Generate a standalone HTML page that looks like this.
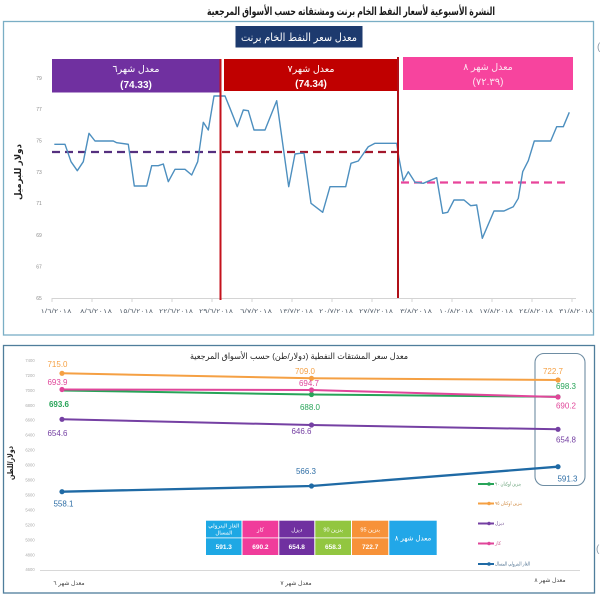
<!DOCTYPE html>
<html><head><meta charset="utf-8"><style>
html,body{margin:0;padding:0;background:#fff;}
svg{display:block;font-family:"Liberation Sans","DejaVu Sans",sans-serif;}
</style></head><body>
<svg width="600" height="595" viewBox="0 0 600 595" xmlns="http://www.w3.org/2000/svg">
<rect width="600" height="595" fill="#fff"/>
<!-- main title -->
<text x="351" y="15" text-anchor="middle" font-size="11" font-weight="bold" fill="#1a1a1a" textLength="288" lengthAdjust="spacingAndGlyphs">النشرة الأسبوعية لأسعار النفط الخام برنت ومشتقاته حسب الأسواق المرجعية</text>
<text x="597" y="50" font-size="10" fill="#8a9aa8">(</text>
<text x="596" y="552" font-size="10" fill="#8a9aa8">(</text>

<!-- TOP FRAME -->
<rect x="3.5" y="21.5" width="590" height="313.5" fill="none" stroke="#7aaec5" stroke-width="1.3"/>
<rect x="235.5" y="26" width="127" height="21.5" fill="#1d3a6e"/>
<text x="299" y="41" text-anchor="middle" font-size="11" fill="#fff" textLength="116" lengthAdjust="spacingAndGlyphs">معدل سعر النفط الخام برنت</text>

<rect x="52" y="59" width="169" height="33.5" fill="#7030a0"/>
<text x="136" y="72" text-anchor="middle" font-size="9.5" fill="#fff">معدل شهر٦</text>
<text x="136" y="88" text-anchor="middle" font-size="10" font-weight="bold" fill="#fff">(74.33)</text>
<rect x="224" y="59" width="174" height="32" fill="#c00000"/>
<text x="311" y="72" text-anchor="middle" font-size="9.5" fill="#fff">معدل شهر٧</text>
<text x="311" y="87" text-anchor="middle" font-size="10" font-weight="bold" fill="#fff">(74.34)</text>
<rect x="403" y="57" width="170" height="33" fill="#f7449e"/>
<text x="488" y="70" text-anchor="middle" font-size="9.5" fill="#fde6f1">معدل شهر ٨</text>
<text x="488" y="85" text-anchor="middle" font-size="10" fill="#fde6f1">(٧٢.٣٩)</text>

<!-- y ticks top -->
<g font-size="5" fill="#8a8a8a" text-anchor="middle">
<text x="39" y="80">79</text><text x="39" y="111">77</text><text x="39" y="142.5">75</text>
<text x="39" y="174">73</text><text x="39" y="205">71</text><text x="39" y="237">69</text>
<text x="39" y="268.5">67</text><text x="39" y="300">65</text>
</g>
<text transform="translate(21,172) rotate(-90)" text-anchor="middle" font-size="9" font-weight="bold" fill="#222" textLength="56" lengthAdjust="spacingAndGlyphs">دولار للبرميل</text>

<!-- x axis top -->
<line x1="52" y1="298.5" x2="576" y2="298.5" stroke="#d4d4d4" stroke-width="1"/>
<g stroke="#d4d4d4" stroke-width="1">
<line x1="52" y1="298" x2="52" y2="302"/><line x1="92" y1="298" x2="92" y2="302"/><line x1="132" y1="298" x2="132" y2="302"/>
<line x1="172" y1="298" x2="172" y2="302"/><line x1="212" y1="298" x2="212" y2="302"/><line x1="252" y1="298" x2="252" y2="302"/>
<line x1="292" y1="298" x2="292" y2="302"/><line x1="332" y1="298" x2="332" y2="302"/><line x1="372" y1="298" x2="372" y2="302"/>
<line x1="412" y1="298" x2="412" y2="302"/><line x1="452" y1="298" x2="452" y2="302"/><line x1="492" y1="298" x2="492" y2="302"/>
<line x1="532" y1="298" x2="532" y2="302"/><line x1="572" y1="298" x2="572" y2="302"/>
</g>
<g font-size="6" fill="#5a6470" text-anchor="middle">
<text x="56" y="313" textLength="31" lengthAdjust="spacingAndGlyphs">١/٦/٢٠١٨</text>
<text x="96" y="313" textLength="32" lengthAdjust="spacingAndGlyphs">٨/٦/٢٠١٨</text>
<text x="136" y="313" textLength="34" lengthAdjust="spacingAndGlyphs">١٥/٦/٢٠١٨</text>
<text x="176" y="313" textLength="34" lengthAdjust="spacingAndGlyphs">٢٢/٦/٢٠١٨</text>
<text x="216" y="313" textLength="34" lengthAdjust="spacingAndGlyphs">٢٩/٦/٢٠١٨</text>
<text x="256" y="313" textLength="32" lengthAdjust="spacingAndGlyphs">٦/٧/٢٠١٨</text>
<text x="296" y="313" textLength="34" lengthAdjust="spacingAndGlyphs">١٣/٧/٢٠١٨</text>
<text x="336" y="313" textLength="34" lengthAdjust="spacingAndGlyphs">٢٠/٧/٢٠١٨</text>
<text x="376" y="313" textLength="34" lengthAdjust="spacingAndGlyphs">٢٧/٧/٢٠١٨</text>
<text x="416" y="313" textLength="32" lengthAdjust="spacingAndGlyphs">٣/٨/٢٠١٨</text>
<text x="456" y="313" textLength="34" lengthAdjust="spacingAndGlyphs">١٠/٨/٢٠١٨</text>
<text x="496" y="313" textLength="34" lengthAdjust="spacingAndGlyphs">١٧/٨/٢٠١٨</text>
<text x="536" y="313" textLength="34" lengthAdjust="spacingAndGlyphs">٢٤/٨/٢٠١٨</text>
<text x="576" y="313" textLength="34" lengthAdjust="spacingAndGlyphs">٣١/٨/٢٠١٨</text>
</g>

<!-- dashed averages -->
<line x1="52" y1="152" x2="220" y2="152" stroke="#55307f" stroke-width="2.2" stroke-dasharray="8,5"/>
<line x1="222" y1="152" x2="397" y2="152" stroke="#a3182c" stroke-width="2.2" stroke-dasharray="8,5"/>
<line x1="401" y1="182.5" x2="570" y2="182.5" stroke="#e8449a" stroke-width="2.2" stroke-dasharray="8,5"/>

<!-- price line -->
<polyline fill="none" stroke="#4d8fbf" stroke-width="1.4" stroke-linejoin="round" points="54.3,144.3 65,144.3 71,161.7 77.3,170.7 83.3,161.7 89,133.3 95,141 113.3,141 116.7,142.7 128.3,144.3 134.3,186 146.7,186 151.7,165.7 158.3,165.7 163.3,164 168.3,181.7 175,169.3 185,169.3 191.7,175 197.7,161.7 203.3,122.3 208.3,130 214,96 218.3,96 225,96 230,108.3 237.3,126.7 243.3,110 248.3,110.7 254,130 265,130 276.7,100.7 288.7,186.7 295,154 300,153.3 304,153.3 311,203.3 322.7,212.3 330,186.7 345.7,186.7 351,163.3 358.3,161 368.3,146.7 375,143.3 396.7,143.3 399,158.3 403.3,180.7 408.3,171.7 415,182.3 423.3,183.3 436.7,177.7 442.7,213.3 447.7,212.3 454,200 464,200 470.7,205.7 476.7,205 482.3,238.3 494,211 504,211 513.3,206.7 518.3,198.3 522.7,171.7 528.3,160.7 534.3,141 550.7,141 556.7,126.7 563.3,126.7 569.3,112.3"/>

<!-- red verticals -->
<line x1="220.5" y1="59" x2="220.5" y2="300" stroke="#c4121c" stroke-width="2"/>
<line x1="398" y1="57" x2="398" y2="298" stroke="#b01018" stroke-width="2"/>

<!-- BOTTOM FRAME -->
<rect x="3.5" y="345.5" width="591" height="247.5" fill="none" stroke="#4f7d9b" stroke-width="1.3"/>
<text x="299" y="359" text-anchor="middle" font-size="8.5" fill="#222" direction="rtl" textLength="218" lengthAdjust="spacingAndGlyphs">معدل سعر المشتقات النفطية (دولار/طن) حسب الأسواق المرجعية</text>

<g font-size="4.2" fill="#aaaaaa" text-anchor="middle">
<text x="30" y="362">7400</text><text x="30" y="377">7200</text><text x="30" y="392">7000</text>
<text x="30" y="407">6800</text><text x="30" y="421.5">6600</text><text x="30" y="436.5">6400</text>
<text x="30" y="451.5">6200</text><text x="30" y="466.5">6000</text><text x="30" y="481.5">5800</text>
<text x="30" y="496.5">5600</text><text x="30" y="511.5">5400</text><text x="30" y="526.5">5200</text>
<text x="30" y="541.5">5000</text><text x="30" y="556.5">4800</text><text x="30" y="571">4600</text>
</g>
<text transform="translate(13,463) rotate(-90)" text-anchor="middle" font-size="8" font-weight="bold" fill="#222" textLength="34" lengthAdjust="spacingAndGlyphs">دولار/للطن</text>

<line x1="40" y1="570.5" x2="580" y2="570.5" stroke="#d8d8d8" stroke-width="1"/>
<g font-size="6" fill="#444" text-anchor="middle">
<text x="69" y="585">معدل شهر ٦</text>
<text x="296" y="585">معدل شهر ٧</text>
<text x="550" y="582">معدل شهر ٨</text>
</g>

<!-- highlight box -->
<rect x="535" y="353.5" width="50" height="132" rx="9" ry="9" fill="none" stroke="#6e8da3" stroke-width="1.1"/>

<!-- series -->
<g stroke-width="2" fill="none" stroke-linejoin="round">
<polyline stroke="#f5a043" points="62,373.3 311.5,378.3 558,380"/>
<polyline stroke="#27a458" points="62,390.5 311.5,394.5 558,396.8"/>
<polyline stroke="#e0469a" points="62,389.5 311.5,390 558,397"/>
<polyline stroke="#7540a3" points="62,419.3 311.5,425 558,429.3"/>
<polyline stroke="#1f6aa5" stroke-width="2.3" points="62,491.7 311.5,486 558,466.7"/>
</g>
<g>
<circle cx="62" cy="373.3" r="2.6" fill="#f5a043"/><circle cx="311.5" cy="378.3" r="2.6" fill="#f5a043"/><circle cx="558" cy="380" r="2.6" fill="#f5a043"/>
<circle cx="311.5" cy="394.5" r="2.6" fill="#27a458"/><circle cx="558" cy="396.8" r="2.6" fill="#27a458"/>
<circle cx="62" cy="389.5" r="2.6" fill="#e0469a"/><circle cx="311.5" cy="390" r="2.6" fill="#e0469a"/><circle cx="558" cy="397" r="2.6" fill="#e0469a"/>
<circle cx="62" cy="419.3" r="2.6" fill="#7540a3"/><circle cx="311.5" cy="425" r="2.6" fill="#7540a3"/><circle cx="558" cy="429.3" r="2.6" fill="#7540a3"/>
<circle cx="62" cy="491.7" r="2.6" fill="#1f6aa5"/><circle cx="311.5" cy="486" r="2.6" fill="#1f6aa5"/><circle cx="558" cy="466.7" r="2.6" fill="#1f6aa5"/>
</g>
<g font-size="8" text-anchor="middle">
<text x="57.5" y="367" fill="#f5a043">715.0</text>
<text x="57.5" y="385" fill="#e0469a">693.9</text>
<text x="59" y="407" fill="#27a458" font-weight="bold">693.6</text>
<text x="57.5" y="436" fill="#7540a3">654.6</text>
<text x="63.5" y="506.5" fill="#2e6ea6">558.1</text>
<text x="305" y="374" fill="#f5a043">709.0</text>
<text x="309" y="386" fill="#e0469a">694.7</text>
<text x="310" y="410" fill="#27a458">688.0</text>
<text x="301.5" y="434" fill="#7540a3">646.6</text>
<text x="306" y="474" fill="#2e6ea6">566.3</text>
<text x="553" y="374" fill="#f5a043">722.7</text>
<text x="566" y="389" fill="#27a458">698.3</text>
<text x="566" y="408.5" fill="#e0469a">690.2</text>
<text x="566" y="442.5" fill="#7540a3">654.8</text>
<text x="567.5" y="481.5" fill="#2e6ea6">591.3</text>
</g>

<!-- legend -->
<g stroke-width="2">
<line x1="478" y1="484" x2="494" y2="484" stroke="#27a458"/>
<line x1="478" y1="503.5" x2="494" y2="503.5" stroke="#f5a043"/>
<line x1="478" y1="523.5" x2="494" y2="523.5" stroke="#7540a3"/>
<line x1="478" y1="543.5" x2="494" y2="543.5" stroke="#e0469a"/>
<line x1="478" y1="564" x2="494" y2="564" stroke="#1f6aa5"/>
</g>
<circle cx="489" cy="484" r="1.8" fill="#27a458"/><circle cx="489" cy="503.5" r="1.8" fill="#f5a043"/>
<circle cx="489" cy="523.5" r="1.8" fill="#7540a3"/><circle cx="489" cy="543.5" r="1.8" fill="#e0469a"/>
<circle cx="489" cy="564" r="1.8" fill="#1f6aa5"/>
<g font-size="5">
<text x="495" y="485.5" fill="#5c9a6e" textLength="26" lengthAdjust="spacingAndGlyphs">بنزين اوكتان ٩٠</text>
<text x="495" y="505" fill="#d08a40" textLength="27" lengthAdjust="spacingAndGlyphs">بنزين اوكتان ٩٥</text>
<text x="495" y="525" fill="#6d4a8e" textLength="9" lengthAdjust="spacingAndGlyphs">ديزل</text>
<text x="495" y="545" fill="#c9568d" textLength="6" lengthAdjust="spacingAndGlyphs">كاز</text>
<text x="495" y="565.5" fill="#4a6e8e" textLength="35" lengthAdjust="spacingAndGlyphs">الغاز البترولي المسال</text>
</g>

<!-- table -->
<rect x="206" y="520.7" width="35.5" height="16.8" fill="#1ea8e4"/>
<rect x="242.5" y="520.7" width="35.8" height="16.8" fill="#f03c9b"/>
<rect x="279.3" y="520.7" width="35" height="16.8" fill="#7030a0"/>
<rect x="315.3" y="520.7" width="35.7" height="16.8" fill="#92c640"/>
<rect x="352" y="520.7" width="36.3" height="16.8" fill="#f79239"/>
<rect x="206" y="538.3" width="35.5" height="16.7" fill="#1ea8e4"/>
<rect x="242.5" y="538.3" width="35.8" height="16.7" fill="#f03c9b"/>
<rect x="279.3" y="538.3" width="35" height="16.7" fill="#7030a0"/>
<rect x="315.3" y="538.3" width="35.7" height="16.7" fill="#92c640"/>
<rect x="352" y="538.3" width="36.3" height="16.7" fill="#f79239"/>
<rect x="389.3" y="520.7" width="47.4" height="34.3" fill="#22a7e8"/>
<g font-size="5.5" fill="#fff" text-anchor="middle">
<text x="223.8" y="527.5" textLength="31" lengthAdjust="spacingAndGlyphs">الغاز البترولي</text>
<text x="223.8" y="534.5">المسال</text>
<text x="260.4" y="531.5">كاز</text>
<text x="296.8" y="531.5">ديزل</text>
<text x="333.2" y="531.5">بنزين 90</text>
<text x="370.2" y="531.5">بنزين 95</text>
</g>
<g font-size="6.5" font-weight="bold" fill="#fff" text-anchor="middle">
<text x="223.8" y="549">591.3</text>
<text x="260.4" y="549">690.2</text>
<text x="296.8" y="549">654.8</text>
<text x="333.2" y="549">658.3</text>
<text x="370.2" y="549">722.7</text>
</g>
<text x="413" y="540.5" text-anchor="middle" font-size="7" fill="#fff">معدل شهر ٨</text>
</svg>
</body></html>
